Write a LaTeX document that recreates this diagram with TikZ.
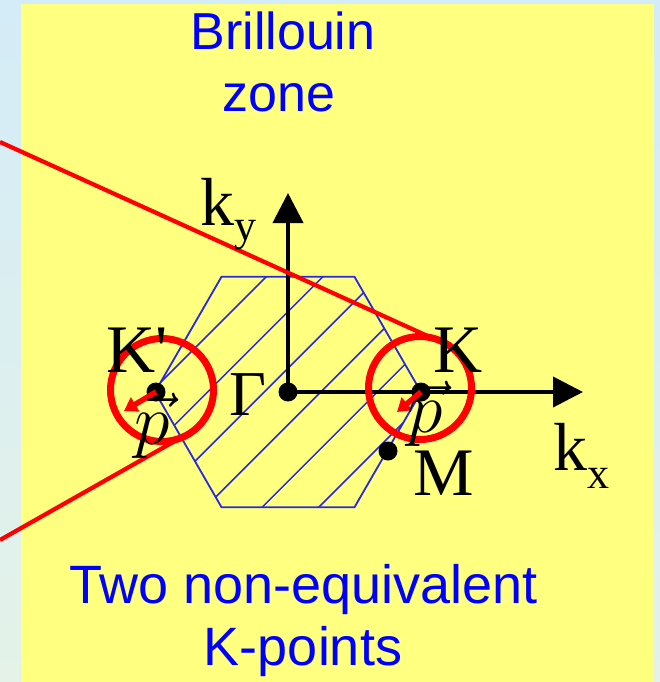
\RequirePackage{fix-cm}
\documentclass[tikz,border=0pt]{standalone}
\usepackage{fontspec}
\setmainfont{Liberation Serif}
\newfontfamily\sansf{Liberation Sans}
\usetikzlibrary{arrows.meta}
\definecolor{bgblue}{RGB}{212,236,248}
\definecolor{bggreen}{RGB}{228,242,232}
\definecolor{ylw}{RGB}{255,255,128}
\definecolor{txtblue}{RGB}{0,0,255}
\definecolor{hexblue}{RGB}{40,40,225}
\definecolor{rred}{RGB}{255,0,0}
\begin{document}
\begin{tikzpicture}[x=1pt,y=-1pt,
  ptdot/.style={circle, fill=black, inner sep=0pt, minimum size=19pt},
  ring/.style={circle, draw=rred, line width=7pt, minimum size=103pt, inner sep=0pt, outer sep=0pt},
  axis/.style={line width=4pt, -{Triangle[length=30pt,width=30pt]}},
  redline/.style={draw=rred, line width=4.2pt},
  parrow/.style={draw=rred, line width=5.5pt, -{Triangle[length=13pt,width=16pt]}},
  bluetext/.style={text=txtblue, inner sep=0pt, anchor=base, font=\sansf\fontsize{52}{52}\selectfont},
  lbl/.style={inner sep=0pt, anchor=base west, font=\fontsize{68}{68}\selectfont},
  plbl/.style={inner sep=0pt, anchor=base, font=\fontsize{72}{72}\selectfont},
  hexline/.style={draw=hexblue, line width=1.8pt},
  hatch/.style={draw=hexblue, line width=1.5pt}]
\useasboundingbox (0,0) rectangle (660,682);
% background
\shade[top color=bgblue, bottom color=bggreen] (0,0) rectangle (660,682);
\fill[ylw] (21,4) rectangle (654,682);
% hexagon with hatching
\begin{scope}
  \clip (421,392) -- (354.5,276.8) -- (221.5,276.8) -- (155,392) -- (221.5,507.2) -- (354.5,507.2) -- cycle;
  \foreach \k in {0,...,5} {
    \pgfmathsetmacro\bb{543+56.6*\k}
    \draw[hatch] (\bb-560,560) -- (\bb-220,220);
  }
\end{scope}
\draw[hexline] (421,392) -- (354.5,276.8) -- (221.5,276.8) -- (155,392) -- (221.5,507.2) -- (354.5,507.2) -- cycle;
% points
\node[ptdot] (G) at (288,392) {};
\node[ptdot] (K) at (421,392) {};
\node[ptdot] (Kp) at (156,392) {};
\node[ptdot] (M) at (388,451) {};
\coordinate (ytip) at (288,193);
\coordinate (xtip) at (583,392);
% axes
\draw[axis] (G.center) -- (ytip);
\draw[axis] (G.center) -- (xtip);
% red circles and lines
\node[ring] (cK) at (420,388) {};
\node[ring] (cKp) at (162,390) {};
\coordinate (l1) at (0,142);
\coordinate (l2) at (0,540);
\draw[redline] (l1) -- (cK.77);
\draw[redline] (l2) -- (cKp.-70);
% p arrows
\coordinate (pa1) at (124,411);
\coordinate (pa2) at (397,412);
\draw[parrow] (Kp.center) -- (pa1);
\draw[parrow] (K.center) -- (pa2);
% labels
\node[lbl] (tKp) at (106,372) {K\textquotesingle};
\node[lbl] (tK) at (433,372) {K};
\node[lbl] (tM) at (413,495) {M};
\node[lbl, font=\fontsize{64}{64}\selectfont] (tG) at (229,415) {Γ};
\node[lbl] (tky) at (200,225) {k\raisebox{-15pt}{\fontsize{44}{44}\selectfont y}};
\node[lbl] (tkx) at (553,470) {k\raisebox{-18pt}{\fontsize{44}{44}\selectfont x}};
\node[plbl] (pKp) at (152,444) {$\vec{p}$};
\node[plbl] (pK) at (425,432) {$\vec{p}$};
% titles
\node[bluetext] (t1) at (283,50) {Brillouin};
\node[bluetext] (t2) at (279,112) {zone};
\node[bluetext, font=\sansf\fontsize{54}{54}\selectfont] (b1) at (303.5,603) {Two non-equivalent};
\node[bluetext, font=\sansf\fontsize{54}{54}\selectfont] (b2) at (303,665) {K-points};
\end{tikzpicture}
\end{document}
